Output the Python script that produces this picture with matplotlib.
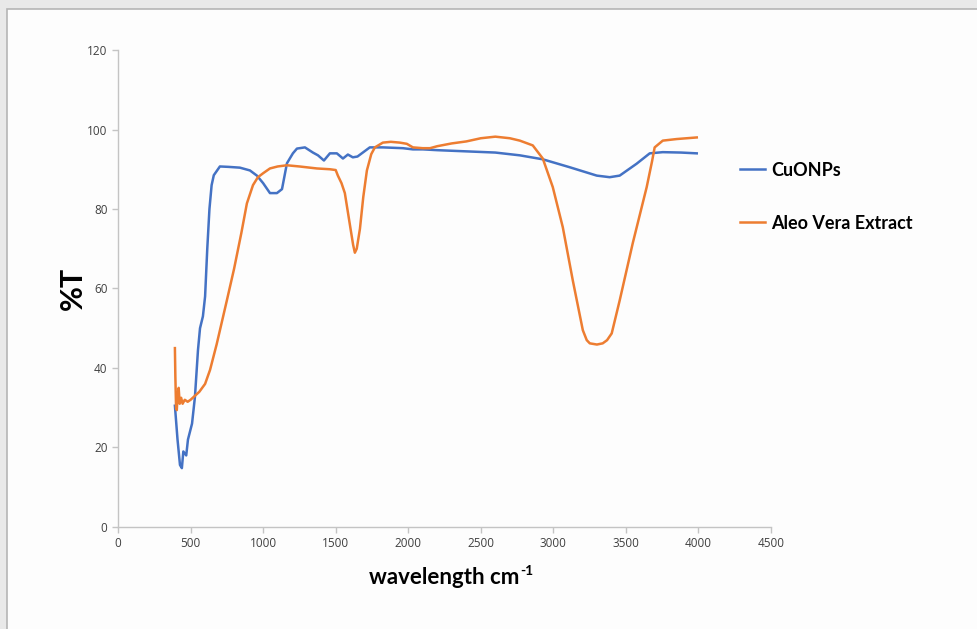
import matplotlib
matplotlib.use("Agg")
import matplotlib.pyplot as plt
from matplotlib.patches import Rectangle

# FTIR spectra
cuo_x = [392, 410, 427, 440, 450, 470, 482, 510, 530, 551, 565, 585, 600, 615, 630,
         645, 660, 702, 760, 840, 909, 957, 1000, 1047, 1095, 1130, 1164, 1205, 1233,
         1288, 1343, 1378, 1419, 1460, 1508, 1550, 1584, 1618, 1650, 1687, 1735, 1825,
         1963, 2032, 2100, 2200, 2400, 2600, 2769, 2927, 3113, 3299, 3388, 3457, 3574,
         3664, 3754, 3880, 3988]
cuo_y = [30.5, 22, 15.6, 14.8, 19, 18, 22, 26, 32.7, 44.5, 50, 53, 58, 70, 80,
         86, 88.5, 90.7, 90.6, 90.4, 89.7, 88.4, 86.5, 84, 84, 85, 91.5, 94, 95.2,
         95.5, 94.2, 93.5, 92.2, 94, 94, 92.7, 93.7, 93, 93.2, 94.2, 95.5, 95.5,
         95.3, 95, 95, 94.8, 94.5, 94.2, 93.5, 92.5, 90.5, 88.4, 88, 88.4, 91.4,
         94, 94.3, 94.2, 94]

aloe_x = [392, 395, 400, 405, 410, 418, 425, 435, 445, 460, 480, 500, 530, 560, 600,
          634, 680, 750, 800, 850, 888, 930, 964, 1000, 1047, 1100, 1164, 1250, 1370,
          1460, 1500, 1515, 1540, 1563, 1598, 1620, 1632, 1645, 1667, 1690, 1715, 1745,
          1770, 1825, 1880, 1942, 1990, 2032, 2100, 2150, 2200, 2300, 2400, 2500, 2600,
          2700, 2769, 2858, 2927, 2996, 3065, 3134, 3203, 3230, 3251, 3300, 3340, 3370,
          3402, 3457, 3547, 3643, 3680, 3698, 3754, 3850, 3988]
aloe_y = [45, 38, 30, 29.4, 33, 35, 31, 32.5, 31, 32, 31.5, 32, 33, 34, 36,
          39.5, 46, 57, 65, 74, 81.4, 86, 88, 89, 90.2, 90.7, 91, 90.7, 90.2,
          90, 89.8, 88.4, 86.5, 84, 76, 71, 69, 70, 75, 83, 89.7, 93.8,
          95.5, 96.7, 96.9, 96.7, 96.4, 95.5, 95.3, 95.3, 95.8, 96.5, 97, 97.8, 98.2,
          97.8, 97.2, 96, 92.7, 85.5, 75.4, 62, 49.5, 47, 46.2, 45.9, 46.2, 47,
          48.7, 57, 71.4, 85.5, 92, 95.5, 97.2, 97.6, 98]

labels = ["CuONPs", "Aleo Vera Extract"]
x_ticks = list(range(0, 4501, 500))
y_ticks = list(range(0, 121, 20))

fig = plt.figure(figsize=(9.77, 6.29), dpi=100)
fig.patch.set_facecolor("#e9e9e9")

# screenshot panel behind the chart
panel = Rectangle((0.007, -0.01), 1.0, 0.995, transform=fig.transFigure,
                  facecolor="#fdfdfd", edgecolor="#b5b5b5", linewidth=1.2, zorder=-10)
fig.patches.append(panel)

ax = fig.add_axes([0.1208, 0.1622, 0.6684, 0.7583])
ax.set_facecolor("none")
ax.plot(cuo_x, cuo_y, color="#4472C4", lw=1.8, label=labels[0])
ax.plot(aloe_x, aloe_y, color="#ED7D31", lw=1.8, label=labels[1])

ax.set_xlim(0, 4500)
ax.set_ylim(0, 120)
ax.set_xticks(x_ticks)
ax.set_yticks(y_ticks)
for side in ["top", "right"]:
    ax.spines[side].set_visible(False)
for side in ["left", "bottom"]:
    ax.spines[side].set_color("#c4c4c4")
    ax.spines[side].set_linewidth(1.0)
ax.tick_params(colors="#c4c4c4", labelcolor="#404040", labelsize=8.5,
               length=4, width=1.0, direction="out")
for lab in ax.get_xticklabels() + ax.get_yticklabels():
    lab.set_family("Open Sans")

ax.set_ylabel("%T", family="Lato", fontweight="bold", fontsize=22, labelpad=0)
xl = ax.set_xlabel("wavelength cm", family="Lato", fontweight="bold",
                   fontsize=16, labelpad=12)

fig.legend(loc="upper left", bbox_to_anchor=(0.741, 0.769), frameon=False,
           prop={"family": "Lato", "weight": "bold", "size": 13},
           handlelength=1.4, handletextpad=0.3, labelspacing=2.0)

# superscript -1 after the x label
fig.canvas.draw()
bb = xl.get_window_extent()
fig.text((bb.x1 + 1) / fig.bbox.width, (bb.y1 + 2) / fig.bbox.height, "-1",
         family="Lato", fontweight="bold", fontsize=10, va="top", ha="left")

fig.savefig("out.png", dpi=100, facecolor=fig.get_facecolor())
